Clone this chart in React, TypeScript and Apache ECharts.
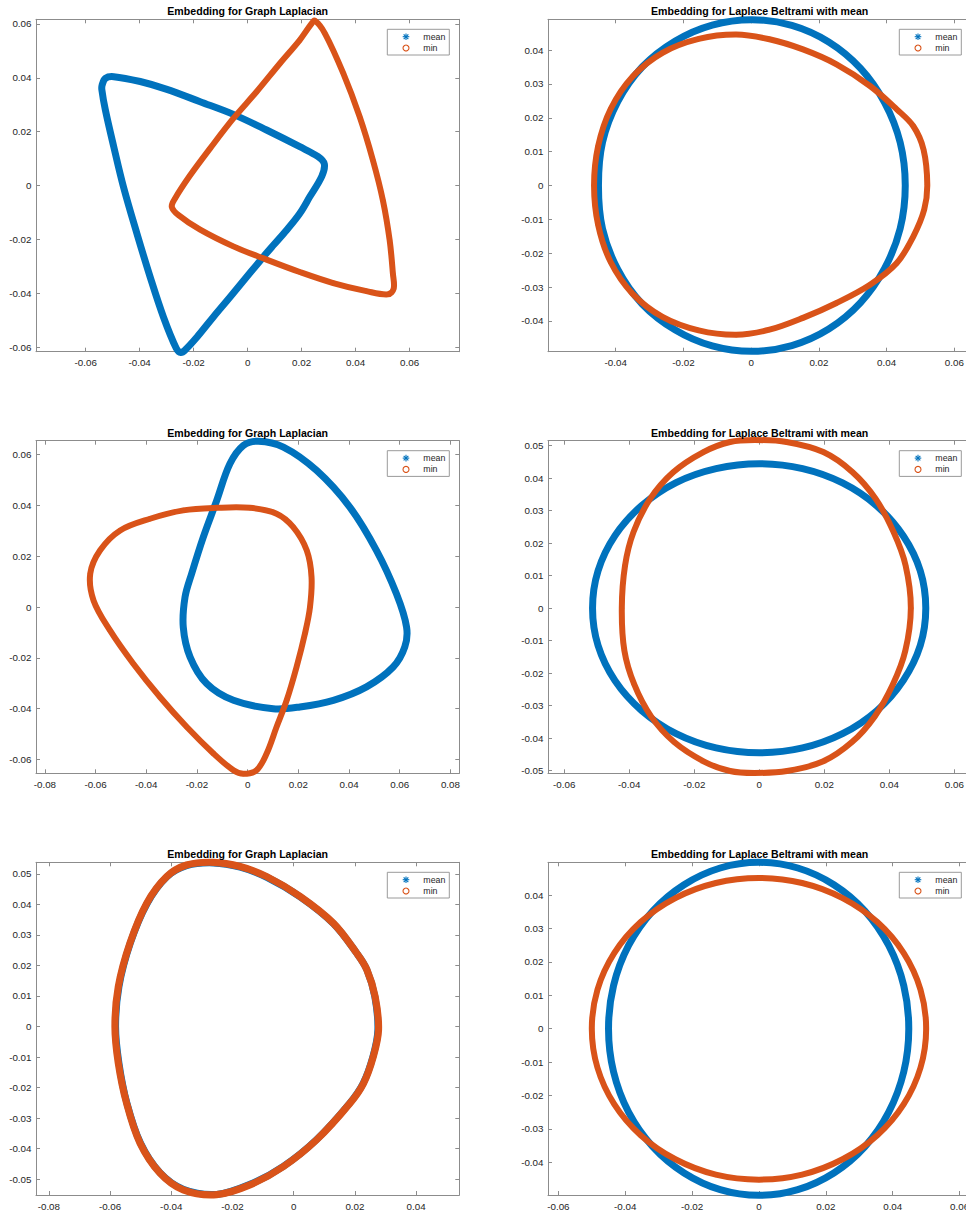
import React, { useEffect, useRef } from "react";
import * as echarts from "echarts";

// ---------- texts ----------
const seriesNames = ["mean", "min"];
const titleGraph = "Embedding for Graph Laplacian";
const titleBeltrami = "Embedding for Laplace Beltrami with mean";

// ---------- tick labels ----------
const xTicks1 = [-0.06, -0.04, -0.02, 0, 0.02, 0.04, 0.06];
const yTicks1 = [-0.06, -0.04, -0.02, 0, 0.02, 0.04, 0.06];
const xTicks2 = [-0.04, -0.02, 0, 0.02, 0.04, 0.06];
const yTicks2 = [-0.04, -0.03, -0.02, -0.01, 0, 0.01, 0.02, 0.03, 0.04];
const xTicks3 = [-0.08, -0.06, -0.04, -0.02, 0, 0.02, 0.04, 0.06, 0.08];
const yTicks3 = [-0.06, -0.04, -0.02, 0, 0.02, 0.04, 0.06];
const xTicks4 = [-0.06, -0.04, -0.02, 0, 0.02, 0.04, 0.06];
const yTicks4 = [-0.05, -0.04, -0.03, -0.02, -0.01, 0, 0.01, 0.02, 0.03, 0.04, 0.05];
const xTicks5 = [-0.08, -0.06, -0.04, -0.02, 0, 0.02, 0.04];
const yTicks5 = [-0.05, -0.04, -0.03, -0.02, -0.01, 0, 0.01, 0.02, 0.03, 0.04, 0.05];
const xTicks6 = [-0.06, -0.04, -0.02, 0, 0.02, 0.04, 0.06];
const yTicks6 = [-0.04, -0.03, -0.02, -0.01, 0, 0.01, 0.02, 0.03, 0.04];

// ---------- series values (x, y) ----------
const p1Mean = [
  [-0.0539, 0.0373], [-0.0527, 0.0398], [-0.0496, 0.0404], [-0.0398, 0.0386], [-0.0299, 0.0357],
  [-0.0176, 0.0311], [-0.0053, 0.0264], [0.007, 0.0206], [0.0193, 0.0144], [0.0261, 0.0107],
  [0.0284, 0.008], [0.0275, 0.0035], [0.023, -0.0042], [0.0193, -0.0104], [0.0144, -0.0166],
  [0.0095, -0.0222], [0.0058, -0.0265], [-0.0004, -0.034], [-0.0065, -0.0414], [-0.0127, -0.0488],
  [-0.0188, -0.0563], [-0.0228, -0.0607], [-0.0247, -0.062], [-0.0265, -0.0603], [-0.0312, -0.0488],
  [-0.0361, -0.034], [-0.041, -0.0179], [-0.046, -0.0005], [-0.0496, 0.0144], [-0.0527, 0.028],
  [-0.054, 0.0355],
];
const p1Min = [
  [0.0249, 0.0612], [0.0286, 0.0565], [0.0354, 0.0417], [0.0415, 0.0255], [0.0464, 0.0094],
  [0.0501, -0.0055], [0.0526, -0.0203], [0.0538, -0.0327], [0.0541, -0.0383], [0.052, -0.0404],
  [0.044, -0.0392], [0.0317, -0.0362], [0.0193, -0.0321], [0.007, -0.0275], [-0.0053, -0.0226],
  [-0.0176, -0.0164], [-0.0256, -0.011], [-0.0281, -0.0079], [-0.0269, -0.0048], [-0.0213, 0.0038],
  [-0.0139, 0.0138], [-0.0053, 0.0249], [0.0033, 0.0348], [0.012, 0.0454], [0.0193, 0.054],
  [0.0236, 0.06],
];
const p2Mean = [
  [0.0455, 0.0], [0.044, 0.0127], [0.0394, 0.0245], [0.0323, 0.0346], [0.0229, 0.0424],
  [0.012, 0.0473], [0.0003, 0.049], [-0.0115, 0.0474], [-0.0224, 0.0427], [-0.0322, 0.035],
  [-0.0394, 0.0248], [-0.0439, 0.0128], [-0.0451, 0.0], [-0.0439, -0.0128], [-0.0394, -0.0248],
  [-0.0322, -0.035], [-0.0224, -0.0427], [-0.0115, -0.0474], [0.0003, -0.049], [0.012, -0.0473],
  [0.0229, -0.0424], [0.0323, -0.0346], [0.0394, -0.0245], [0.044, -0.0127],
];
const p2Min = [
  [0.052, 0.0003], [0.0509, 0.0106], [0.0479, 0.0175], [0.043, 0.0225], [0.0351, 0.0294],
  [0.0252, 0.0358], [0.0153, 0.0402], [0.0054, 0.0432], [-0.0044, 0.0446], [-0.0155, 0.0433],
  [-0.0262, 0.0392], [-0.035, 0.0322], [-0.0415, 0.0226], [-0.0452, 0.0116], [-0.0464, 0.0],
  [-0.0452, -0.0116], [-0.0415, -0.0226], [-0.035, -0.032], [-0.0262, -0.0388], [-0.0155, -0.0428],
  [-0.0044, -0.0441], [0.0054, -0.0426], [0.0153, -0.0391], [0.0252, -0.0347], [0.0351, -0.0293],
  [0.043, -0.0229], [0.0479, -0.015], [0.0511, -0.0071],
];
const p3Mean = [
  [0.0042, 0.0652], [0.0141, 0.0629], [0.0272, 0.0537], [0.0403, 0.0393], [0.0508, 0.0223],
  [0.0587, 0.0052], [0.0627, -0.0079], [0.062, -0.0157], [0.0574, -0.0236], [0.0469, -0.0314],
  [0.0338, -0.0367], [0.0206, -0.0393], [0.0101, -0.04], [-0.0056, -0.0367], [-0.0162, -0.0301],
  [-0.0227, -0.0197], [-0.0254, -0.0079], [-0.0247, 0.0039], [-0.0221, 0.0131], [-0.0175, 0.0275],
  [-0.0122, 0.0419], [-0.007, 0.0563], [-0.0017, 0.0635],
];
const p3Min = [
  [-0.0621, 0.0131], [-0.0582, 0.0223], [-0.0503, 0.0301], [-0.0385, 0.0347], [-0.0254, 0.038],
  [-0.0122, 0.039], [0.0009, 0.039], [0.0114, 0.0367], [0.018, 0.0314], [0.0233, 0.0223],
  [0.0252, 0.0118], [0.0246, 0.0], [0.0226, -0.0105], [0.0193, -0.0236], [0.0154, -0.0367],
  [0.0114, -0.0472], [0.0075, -0.0576], [0.0035, -0.0642], [-0.0017, -0.0656], [-0.0056, -0.0642],
  [-0.0135, -0.0576], [-0.024, -0.0472], [-0.0346, -0.0354], [-0.0451, -0.0223], [-0.0543, -0.0092],
  [-0.0608, 0.0026],
];
const p4Mean = [
  [0.0512, 0.0], [0.0495, 0.0115], [0.0443, 0.0222], [0.0362, 0.0314], [0.0256, 0.0385],
  [0.0133, 0.0429], [0.0, 0.0444], [-0.0133, 0.0429], [-0.0256, 0.0386], [-0.0362, 0.0315],
  [-0.0444, 0.0223], [-0.0496, 0.0115], [-0.0513, 0.0], [-0.0496, -0.0115], [-0.0444, -0.0223],
  [-0.0362, -0.0315], [-0.0256, -0.0386], [-0.0133, -0.043], [0.0, -0.0445], [0.0133, -0.043],
  [0.0256, -0.0386], [0.0362, -0.0315], [0.0443, -0.0222], [0.0495, -0.0115],
];
const p4Min = [
  [0.0466, 0.0], [0.045, 0.0131], [0.0413, 0.0234], [0.0358, 0.0336], [0.0287, 0.0418],
  [0.0197, 0.048], [0.0084, 0.0511], [-0.0013, 0.0517], [-0.009, 0.0511], [-0.0172, 0.048],
  [-0.0265, 0.0418], [-0.0336, 0.0336], [-0.0387, 0.0234], [-0.0413, 0.0131], [-0.0423, 0.0],
  [-0.0415, -0.0131], [-0.0385, -0.0234], [-0.0333, -0.0333], [-0.0262, -0.0412], [-0.017, -0.0472],
  [-0.009, -0.0501], [-0.0015, -0.0507], [0.0085, -0.0501], [0.0195, -0.0472], [0.0285, -0.0412],
  [0.0355, -0.0333], [0.0411, -0.0234], [0.0449, -0.0131],
];
const p5Mean = [
  [-0.0263, 0.0536], [-0.0175, 0.0522], [-0.0088, 0.0489], [0.0021, 0.0425], [0.013, 0.0337],
  [0.0206, 0.024], [0.0239, 0.0186], [0.0265, 0.0098], [0.0275, -0.0011], [0.0259, -0.0098],
  [0.0227, -0.0186], [0.0183, -0.0251], [0.0075, -0.037], [-0.0034, -0.0458], [-0.0143, -0.0517],
  [-0.0252, -0.055], [-0.0361, -0.0533], [-0.0437, -0.0479], [-0.0501, -0.0381], [-0.0545, -0.0251],
  [-0.0571, -0.012], [-0.0582, 0.0], [-0.0571, 0.0131], [-0.0534, 0.0273], [-0.0479, 0.0403],
  [-0.0415, 0.049], [-0.035, 0.0527],
];
const p5Min = [
  [-0.0263, 0.0538], [-0.0175, 0.0524], [-0.0088, 0.0491], [0.0021, 0.0426], [0.013, 0.0338],
  [0.0206, 0.024], [0.0239, 0.0186], [0.0266, 0.0098], [0.0277, -0.0011], [0.026, -0.0098],
  [0.0228, -0.0186], [0.0184, -0.0251], [0.0075, -0.0371], [-0.0034, -0.0459], [-0.0143, -0.0519],
  [-0.0252, -0.0551], [-0.0361, -0.0535], [-0.0437, -0.048], [-0.0502, -0.0382], [-0.0546, -0.0251],
  [-0.0573, -0.012], [-0.0584, 0.0], [-0.0573, 0.0131], [-0.0535, 0.0273], [-0.048, 0.0404],
  [-0.0415, 0.0491], [-0.035, 0.0529],
];
const p6Mean = [
  [0.0448, 0.0], [0.0433, 0.0129], [0.0388, 0.0249], [0.0317, 0.0352], [0.0224, 0.0431],
  [0.0116, 0.0481], [0.0, 0.0498], [-0.0116, 0.0481], [-0.0224, 0.0431], [-0.0318, 0.0352],
  [-0.039, 0.0249], [-0.0435, 0.0129], [-0.045, 0.0], [-0.0435, -0.0129], [-0.039, -0.025],
  [-0.0318, -0.0353], [-0.0224, -0.0432], [-0.0116, -0.0482], [0.0, -0.0499], [0.0116, -0.0482],
  [0.0224, -0.0432], [0.0317, -0.0353], [0.0388, -0.025], [0.0433, -0.0129],
];
const p6Min = [
  [0.05, 0.0], [0.0483, 0.0117], [0.0433, 0.0226], [0.0354, 0.0319], [0.025, 0.0391],
  [0.0129, 0.0436], [0.0, 0.0451], [-0.0129, 0.0436], [-0.025, 0.0391], [-0.0354, 0.0319],
  [-0.0433, 0.0226], [-0.0483, 0.0117], [-0.05, 0.0], [-0.0483, -0.0117], [-0.0433, -0.0226],
  [-0.0354, -0.0319], [-0.025, -0.0391], [-0.0129, -0.0437], [0.0, -0.0452], [0.0129, -0.0437],
  [0.025, -0.0391], [0.0354, -0.0319], [0.0433, -0.0226], [0.0483, -0.0117],
];

// ---------- styles / layout ----------
const BLUE = "#0072BD";
const ORANGE = "#D95319";
const AXIS_COLOR = "#8c8c8c";
const TEXT_COLOR = "#262626";
const FONT = "'Liberation Sans', Arial, Helvetica, sans-serif";
const BOX_W = 423.3;

const panels = [
  { title: titleGraph, mean: p1Mean, min: p1Min, xTicks: xTicks1, yTicks: yTicks1, minWidth: 6,
    xRange: [-0.0784, 0.0784], yRange: [-0.0617, 0.0617], left: 36, top: 19.3, height: 332.4 },
  { title: titleBeltrami, mean: p2Mean, min: p2Min, xTicks: xTicks2, yTicks: yTicks2, minWidth: 6,
    xRange: [-0.06, 0.065], yRange: [-0.0491, 0.0491], left: 548, top: 19.3, height: 332.4 },
  { title: titleGraph, mean: p3Mean, min: p3Min, xTicks: xTicks3, yTicks: yTicks3, minWidth: 6,
    xRange: [-0.0835, 0.0835], yRange: [-0.0654, 0.0654], left: 36, top: 440.7, height: 332.6 },
  { title: titleBeltrami, mean: p4Mean, min: p4Min, xTicks: xTicks4, yTicks: yTicks4, minWidth: 6,
    xRange: [-0.065, 0.0652], yRange: [-0.0508, 0.0515], left: 548, top: 440.7, height: 332.6 },
  { title: titleGraph, mean: p5Mean, min: p5Min, xTicks: xTicks5, yTicks: yTicks5, minWidth: 7.2,
    xRange: [-0.0842, 0.0541], yRange: [-0.0552, 0.0538], left: 36, top: 862.3, height: 332.7 },
  { title: titleBeltrami, mean: p6Mean, min: p6Min, xTicks: xTicks6, yTicks: yTicks6, minWidth: 6,
    xRange: [-0.0631, 0.0635], yRange: [-0.0498, 0.0498], left: 548, top: 862.3, height: 332.7 },
];

const fmt = (v: number) => (Math.abs(v) < 1e-9 ? "0" : String(parseFloat(v.toFixed(3))));

// closed smooth loop through the points, plus a small marker at each point
function loopSeries(name: string, pts: number[][], i: number, color: string, width: number, z: number) {
  return {
    name, type: "custom", coordinateSystem: "cartesian2d",
    xAxisIndex: 2 * i, yAxisIndex: 2 * i,
    data: pts, encode: { x: 0, y: 1 }, clip: false, silent: true, z,
    renderItem: (params: any, api: any) => {
      const children: any[] = [];
      if (params.dataIndex === 0) {
        const poly = pts.map((p) => api.coord(p));
        children.push({
          type: "polygon",
          shape: { points: poly, smooth: 0.35 },
          style: { fill: "none", stroke: color, lineWidth: width, lineJoin: "round" },
        });
      }
      const c = api.coord([api.value(0), api.value(1)]);
      children.push({ type: "circle", shape: { cx: c[0], cy: c[1], r: 2.5 }, style: { fill: color } });
      return { type: "group", children };
    },
  };
}

function legendElements(L: number, T: number) {
  const cx = L + 18.7;
  const cy1 = T + 7.4;
  const cy2 = T + 18.7;
  const r = 3.3;
  const d = r * 0.7071;
  const ast = { stroke: BLUE, lineWidth: 1.1 };
  return [
    { type: "rect", z: 100, shape: { x: L, y: T, width: 62, height: 25.7 },
      style: { fill: "#fff", stroke: "#9a9a9a", lineWidth: 1 } },
    { type: "line", z: 101, shape: { x1: cx - r, y1: cy1, x2: cx + r, y2: cy1 }, style: ast },
    { type: "line", z: 101, shape: { x1: cx, y1: cy1 - r, x2: cx, y2: cy1 + r }, style: ast },
    { type: "line", z: 101, shape: { x1: cx - d, y1: cy1 - d, x2: cx + d, y2: cy1 + d }, style: ast },
    { type: "line", z: 101, shape: { x1: cx - d, y1: cy1 + d, x2: cx + d, y2: cy1 - d }, style: ast },
    { type: "circle", z: 101, shape: { cx, cy: cy2, r: 3 },
      style: { fill: "#fff", stroke: ORANGE, lineWidth: 1.1 } },
    { type: "text", z: 101, x: L + 36, y: cy1,
      style: { text: seriesNames[0], fontSize: 8.8, fill: TEXT_COLOR, fontFamily: FONT,
        align: "left", verticalAlign: "middle" } },
    { type: "text", z: 101, x: L + 36, y: cy2,
      style: { text: seriesNames[1], fontSize: 8.8, fill: TEXT_COLOR, fontFamily: FONT,
        align: "left", verticalAlign: "middle" } },
  ];
}

function buildOption() {
  const grid: any[] = [];
  const xAxis: any[] = [];
  const yAxis: any[] = [];
  const series: any[] = [];
  const title: any[] = [];
  const graphics: any[] = [];

  panels.forEach((p, i) => {
    grid.push({
      left: p.left, top: p.top, width: BOX_W, height: p.height,
      containLabel: false, outerBoundsMode: "none", show: false,
    });
    const line = { show: true, onZero: false, lineStyle: { color: AXIS_COLOR, width: 1 } };
    const tick = (vals: number[]) => ({
      show: true, inside: true, length: 4, customValues: vals,
      lineStyle: { color: AXIS_COLOR, width: 1 },
    });
    const label = (vals: number[], margin: number) => ({
      show: true, customValues: vals, formatter: fmt, fontSize: 9.8,
      color: TEXT_COLOR, fontFamily: FONT, margin,
    });
    const base = { type: "value", gridIndex: i, splitLine: { show: false }, axisLine: line, scale: true };
    xAxis.push({ ...base, position: "bottom", min: p.xRange[0], max: p.xRange[1],
      axisTick: tick(p.xTicks), axisLabel: label(p.xTicks, 6) });
    xAxis.push({ ...base, position: "top", min: p.xRange[0], max: p.xRange[1],
      axisTick: tick(p.xTicks), axisLabel: { show: false } });
    yAxis.push({ ...base, position: "left", min: p.yRange[0], max: p.yRange[1],
      axisTick: tick(p.yTicks), axisLabel: label(p.yTicks, 4.5) });
    yAxis.push({ ...base, position: "right", min: p.yRange[0], max: p.yRange[1],
      axisTick: tick(p.yTicks), axisLabel: { show: false } });

    series.push(loopSeries(seriesNames[0], p.mean, i, BLUE, 7, 2));
    series.push(loopSeries(seriesNames[1], p.min, i, ORANGE, p.minWidth, 3));

    title.push({
      text: p.title, left: p.left + BOX_W / 2, top: p.top - 13.5, textAlign: "center", padding: 0,
      textStyle: { fontSize: 10.6, fontWeight: "bold", color: "#000", fontFamily: FONT },
    });
    graphics.push(...legendElements(p.left + BOX_W - 72, p.top + 10));
  });

  return {
    animation: false,
    backgroundColor: "#fff",
    textStyle: { fontFamily: FONT },
    title, grid, xAxis, yAxis, series,
    graphic: { elements: graphics },
  };
}

export default function App() {
  const ref = useRef<HTMLDivElement>(null);
  useEffect(() => {
    if (!ref.current) return;
    const chart = echarts.init(ref.current, null, { renderer: "svg" });
    chart.setOption(buildOption() as any);
    return () => chart.dispose();
  }, []);
  return (
    <div
      ref={ref}
      style={{ position: "absolute", left: 0, top: 0, width: 966, height: 1215, background: "#fff" }}
    />
  );
}
